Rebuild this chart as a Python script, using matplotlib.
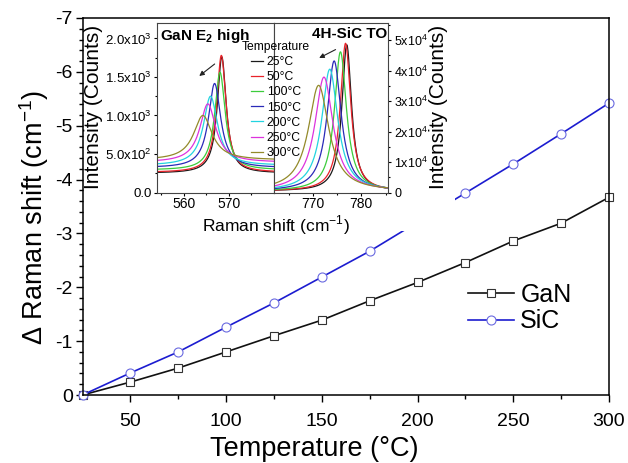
import numpy as np
import matplotlib
matplotlib.use('Agg')
import matplotlib.pyplot as plt
from matplotlib.ticker import MultipleLocator, FuncFormatter, FixedLocator
from matplotlib.patches import Rectangle

plt.rcParams['font.family'] = ['Liberation Sans', 'DejaVu Sans']
plt.rcParams['mathtext.fontset'] = 'custom'
plt.rcParams['mathtext.rm'] = 'Liberation Sans'
plt.rcParams['mathtext.bf'] = 'Liberation Sans:bold'
plt.rcParams['axes.unicode_minus'] = False

# main plot: Raman shift vs temperature
temps = [25, 50, 75, 100, 125, 150, 175, 200, 225, 250, 275, 300]
gan_shift = [0, -0.24, -0.50, -0.80, -1.10, -1.39, -1.75, -2.09, -2.46, -2.86, -3.19, -3.67]
sic_shift = [0, -0.41, -0.80, -1.26, -1.71, -2.19, -2.67, -3.21, -3.75, -4.29, -4.85, -5.42]

# inset: peak parameters
temp_labels = ['25°C', '50°C', '100°C', '150°C', '200°C', '250°C', '300°C']
colors = ['#1a1a1a', '#e8232a', '#3ccc3c', '#2a2ab8', '#22d4e0', '#dd33dd', '#938a2a']
gan_center = [568.4, 568.3, 568.0, 566.8, 565.9, 565.3, 564.2]
gan_height = [1510, 1520, 1270, 1095, 900, 760, 580]
gan_fwhm = [2.4, 2.5, 2.8, 3.3, 3.8, 4.3, 5.0]
gan_base = [250, 260, 290, 320, 350, 390, 420]
sic_center = [777.0, 776.75, 775.7, 774.4, 773.5, 772.3, 771.2]
sic_height = [48000, 48500, 45700, 42700, 40000, 37400, 34700]
sic_fwhm = [2.4, 2.6, 3.0, 3.5, 4.0, 4.5, 5.1]
sic_base = 450


def lorentz(x, c, h, w, b):
    return b + h / (1 + (2 * (x - c) / w) ** 2)


def sci_fmt(dec, zero):
    def f(v, pos):
        if abs(v) < 1e-9:
            return zero
        if v < 0:
            return ''
        e = int(np.floor(np.log10(v)))
        m = v / 10 ** e
        return f'{m:.{dec}f}x10$^{{{e}}}$'
    return FuncFormatter(f)


fig = plt.figure(figsize=(6.28, 4.63), dpi=100)
W, H = 628, 463


def fx(px):
    return px / W


def fy(py):
    return 1 - py / H


ax = fig.add_axes([fx(82.5), fy(395), fx(609) - fx(82.5), fy(18) - fy(395)])
ax.plot(temps, gan_shift, color='#111111', lw=1.2, marker='s', ms=5.5,
        mfc='white', mec='#333333', mew=0.8, label='GaN', clip_on=False, zorder=2)
ax.plot(temps, sic_shift, color='#1c1cd0', lw=1.2, marker='o', ms=6.5,
        mfc='white', mec='#6a6ae0', mew=0.8, label='SiC', clip_on=False, zorder=2)
ax.set_xlim(25, 300)
ax.set_ylim(0, -7)
ax.xaxis.set_major_locator(MultipleLocator(50))
ax.xaxis.set_minor_locator(MultipleLocator(25))
ax.yaxis.set_major_locator(MultipleLocator(1))
ax.yaxis.set_minor_locator(MultipleLocator(0.2))
ax.tick_params(which='both', direction='out', top=False, right=False, labelsize=14, width=1)
ax.tick_params(which='major', length=5)
ax.tick_params(which='minor', length=3)
ax.tick_params(axis='x', pad=8)
ax.tick_params(axis='y', pad=2)
for s in ax.spines.values():
    s.set_linewidth(1.1)
ax.set_xlabel('Temperature (°C)', fontsize=19.5)
ax.set_ylabel('\u0394 Raman shift (cm$^{-1}$)', fontsize=19.5)
ax.yaxis.set_label_coords(fx(51), fy(217), transform=fig.transFigure)
ax.xaxis.set_label_coords(0.5, fy(436), transform=fig.transFigure)
ax.legend(loc='center left', bbox_to_anchor=(fx(468), fy(308)), bbox_transform=fig.transFigure,
          frameon=False, fontsize=18, handlelength=1.84, handletextpad=0.25,
          labelspacing=0.1, borderpad=0, borderaxespad=0)

# white area behind the inset
ax.add_patch(Rectangle((fx(84), fy(231)), fx(455) - fx(84), fy(20) - fy(231),
                       transform=fig.transFigure, facecolor='white', edgecolor='none',
                       zorder=2.5, clip_on=False))

# inset panels
ax1 = fig.add_axes([fx(157), fy(192.5), fx(274) - fx(157), fy(23) - fy(192.5)])
ax2 = fig.add_axes([fx(274), fy(192.5), fx(388) - fx(274), fy(23) - fy(192.5)])

xg = np.linspace(554, 580, 400)
xs = np.linspace(762, 785.5, 400)
handles = []
for i in range(len(temp_labels)):
    h, = ax1.plot(xg, lorentz(xg, gan_center[i], gan_height[i], gan_fwhm[i], gan_base[i]),
                  color=colors[i], lw=0.9, label=temp_labels[i])
    ax2.plot(xs, lorentz(xs, sic_center[i], sic_height[i], sic_fwhm[i], sic_base),
             color=colors[i], lw=0.9)
    handles.append(h)

ax1.set_xlim(554, 580)
ax1.set_ylim(0, 2200)
ax1.xaxis.set_major_locator(FixedLocator([560, 570]))
ax1.xaxis.set_minor_locator(FixedLocator([555, 565, 575]))
ax1.yaxis.set_major_locator(MultipleLocator(500))
ax1.yaxis.set_minor_locator(MultipleLocator(250))
ax1.yaxis.set_major_formatter(sci_fmt(1, '0.0'))
ax1.tick_params(which='both', direction='out', top=False, right=False, labelsize=9.5,
                pad=1.5, width=0.8)
ax1.tick_params(which='major', length=2.5)
ax1.tick_params(which='minor', length=1.5)
ax1.tick_params(axis='x', labelsize=10, pad=1)

ax2.set_xlim(762, 785.5)
ax2.set_ylim(0, 55600)
ax2.xaxis.set_major_locator(FixedLocator([770, 780]))
ax2.xaxis.set_minor_locator(FixedLocator([765, 775, 785]))
ax2.yaxis.set_major_locator(MultipleLocator(10000))
ax2.yaxis.set_minor_locator(MultipleLocator(5000))
ax2.yaxis.set_major_formatter(sci_fmt(0, '0'))
ax2.yaxis.tick_right()
ax2.yaxis.set_label_position('right')
ax2.tick_params(which='both', direction='out', top=False, left=False, labelsize=9,
                pad=2, width=0.8)
ax2.tick_params(which='major', length=2.5)
ax2.tick_params(which='minor', length=1.5)
ax2.tick_params(axis='x', labelsize=10, pad=1)

for a in (ax1, ax2):
    for s in a.spines.values():
        s.set_linewidth(0.8)
        s.set_color('#444444')

ax1.set_ylabel('Intensity (Counts)', fontsize=15)
ax1.yaxis.set_label_coords(fx(103), fy(107), transform=fig.transFigure)
ax2.set_ylabel('Intensity (Counts)', fontsize=15)
ax2.yaxis.set_label_coords(fx(429), fy(107), transform=fig.transFigure)
fig.text(fx(276), fy(225), 'Raman shift (cm$^{-1}$)', fontsize=12.5, ha='center', va='center')

ax1.text(0.025, 0.975, r'GaN E$_\mathbf{2}$ high', transform=ax1.transAxes,
         fontsize=11, fontweight='bold', ha='left', va='top')
ax2.text(0.99, 0.975, '4H-SiC TO', transform=ax2.transAxes,
         fontsize=11, fontweight='bold', ha='right', va='top')

ax1.annotate('', xy=(562.9, 1490), xytext=(567.3, 1690),
             arrowprops=dict(arrowstyle='-|>', color='#222222', lw=0.8, mutation_scale=7))
ax2.annotate('', xy=(770.8, 43700), xytext=(775.2, 47300),
             arrowprops=dict(arrowstyle='-|>', color='#222222', lw=0.8, mutation_scale=7))

fig.legend(handles=handles, loc='upper left', bbox_to_anchor=(fx(242), fy(41)),
           bbox_transform=fig.transFigure, frameon=False, fontsize=8.7,
           title='Temperature', title_fontsize=8.7, handlelength=1.0,
           handletextpad=0.3, labelspacing=0.26, borderpad=0, borderaxespad=0,
           alignment='center')

fig.savefig('out.png', dpi=100)
